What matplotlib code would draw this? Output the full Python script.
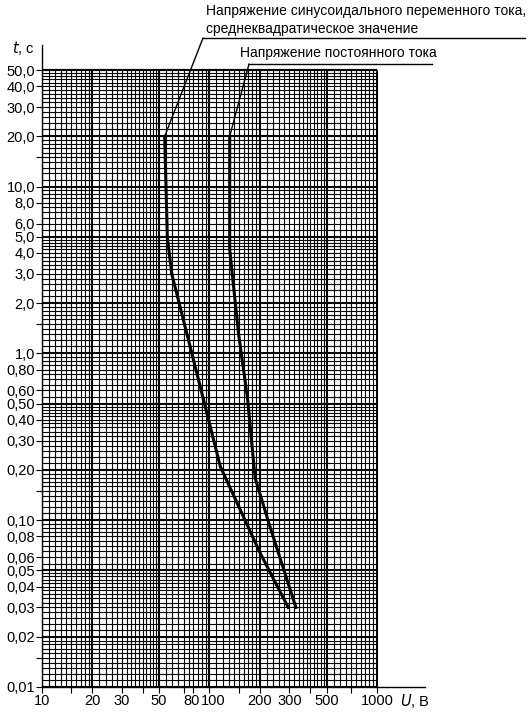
import numpy as np
import matplotlib.pyplot as plt
from matplotlib.lines import Line2D
from matplotlib.transforms import ScaledTranslation

plt.rcParams['font.family'] = ['Liberation Sans', 'DejaVu Sans']

# кривые: время t (с) и напряжение U (В)
ac_t = [20.0, 5.0, 3.0, 1.1, 0.53, 0.21, 0.064, 0.030]
ac_u = [54.0, 56.0, 59.5, 76.6, 92.0, 116.0, 200.0, 295.0]
dc_t = [20.0, 4.2, 1.32, 0.53, 0.18, 0.091, 0.030]
dc_u = [132.0, 132.0, 149.0, 169.0, 187.0, 230.0, 328.0]

y_ticks = [0.01, 0.02, 0.03, 0.04, 0.05, 0.06, 0.08, 0.10, 0.20, 0.30, 0.40,
           0.50, 0.60, 0.80, 1.0, 2.0, 3.0, 4.0, 5.0, 6.0, 8.0, 10.0, 20.0,
           30.0, 40.0, 50.0]
y_labels = ['0,01', '0,02', '0,03', '0,04', '0,05', '0,06', '0,08', '0,10',
            '0,20', '0,30', '0,40', '0,50', '0,60', '0,80', '1,0', '2,0',
            '3,0', '4,0', '5,0', '6,0', '8,0', '10,0', '20,0', '30,0',
            '40,0', '50,0']
y_minor = [0.015, 0.15, 1.5, 15.0]
x_ticks = [10, 20, 30, 50, 80, 100, 200, 300, 500, 1000]
x_labels = ['10', '20', '30', '50', '80', '100', '200', '300', '500', '1000']
x_minor = [15, 40, 70, 150, 400, 700]

label_ac = 'Напряжение синусоидального переменного тока,\nсреднеквадратическое значение'
label_dc = 'Напряжение постоянного тока'

W, H = 530, 718
fig = plt.figure(figsize=(W / 100, H / 100), dpi=100)
ax = fig.add_axes([42 / W, 31 / H, 383 / W, 642 / H])
ax.set_xscale('log')
ax.set_yscale('log')
ax.set_xlim(10, 10 ** (1 + 383 / 167.5))
ax.set_ylim(0.01, 10 ** (-2 + 642 / 166.8))


# сетка логарифмической бумаги
def paper_lines(lo_dec, hi_dec, top):
    vals = []
    for d in range(lo_dec, hi_dec):
        base = 10.0 ** d
        m = np.concatenate([np.arange(1.0, 2.0, 0.1), np.arange(2.0, 5.0, 0.2),
                            np.arange(5.0, 10.0, 0.5)])
        vals.extend(m * base)
    vals.append(top)
    return np.array(vals)


xs = paper_lines(1, 3, 1000.0)
ys = paper_lines(-2, 2, 50.0)
ys = ys[ys <= 50.0001]


def is_major(v):
    m = v / 10 ** np.floor(np.log10(v) + 1e-9)
    return any(abs(m - k) < 1e-6 for k in (1.0, 2.0, 5.0))


for v in xs:
    ax.vlines(v, 0.01, 50.0, color='black', lw=1.5 if is_major(v) else 0.8, zorder=1)
for v in ys:
    ax.hlines(v, 10, 1000, color='black', lw=1.5 if is_major(v) else 0.8, zorder=1)

ax.plot(ac_u, ac_t, color='black', lw=2.2, zorder=3)
ax.plot(dc_u, dc_t, color='black', lw=2.2, zorder=3)

ax.spines['top'].set_visible(False)
ax.spines['right'].set_visible(False)
ax.spines['left'].set_linewidth(1.0)
ax.spines['bottom'].set_linewidth(1.0)
ax.set_yticks(y_ticks)
ax.set_yticklabels(y_labels)
ax.set_yticks(y_minor, minor=True)
ax.set_yticklabels([], minor=True)
ax.set_xticks(x_ticks)
ax.set_xticklabels(x_labels)
ax.set_xticks(x_minor, minor=True)
ax.set_xticklabels([], minor=True)
ax.tick_params(which='both', direction='out', length=4, width=0.8, labelsize=10.5, pad=1)

# "80" и "100" стоят вплотную, как в оригинале
xt = ax.get_xticklabels()
xt[4].set_transform(xt[4].get_transform() + ScaledTranslation(-2 / 100, 0, fig.dpi_scale_trans))
xt[5].set_transform(xt[5].get_transform() + ScaledTranslation(4 / 100, 0, fig.dpi_scale_trans))

fig.text(12 / W, 1 - 48 / H, r'$\it{t}$, c', fontsize=10.5, va='center', ha='left')
fig.text(400 / W, 1 - 701 / H, r'$\it{U}$, В', fontsize=10.5, va='center', ha='left')

# подписи с выносками
fig.text(206 / W, 1 - 20 / H, label_ac, fontsize=10, va='center', ha='left', linespacing=1.35)
fig.text(240 / W, 1 - 53 / H, label_dc, fontsize=10, va='center', ha='left')
fig.add_artist(Line2D([203 / W, 525 / W], [1 - 38 / H, 1 - 38 / H], color='black', lw=1.0))
fig.add_artist(Line2D([249 / W, 432 / W], [1 - 64 / H, 1 - 64 / H], color='black', lw=1.0))
ax.annotate('', xy=(ac_u[0], ac_t[0]), xycoords='data',
            xytext=(203 / W, 1 - 38 / H), textcoords='figure fraction',
            arrowprops=dict(arrowstyle='-', lw=1.0, shrinkA=0, shrinkB=0))
ax.annotate('', xy=(dc_u[0], dc_t[0]), xycoords='data',
            xytext=(249 / W, 1 - 64 / H), textcoords='figure fraction',
            arrowprops=dict(arrowstyle='-', lw=1.0, shrinkA=0, shrinkB=0))

fig.savefig('out.png', dpi=100)
